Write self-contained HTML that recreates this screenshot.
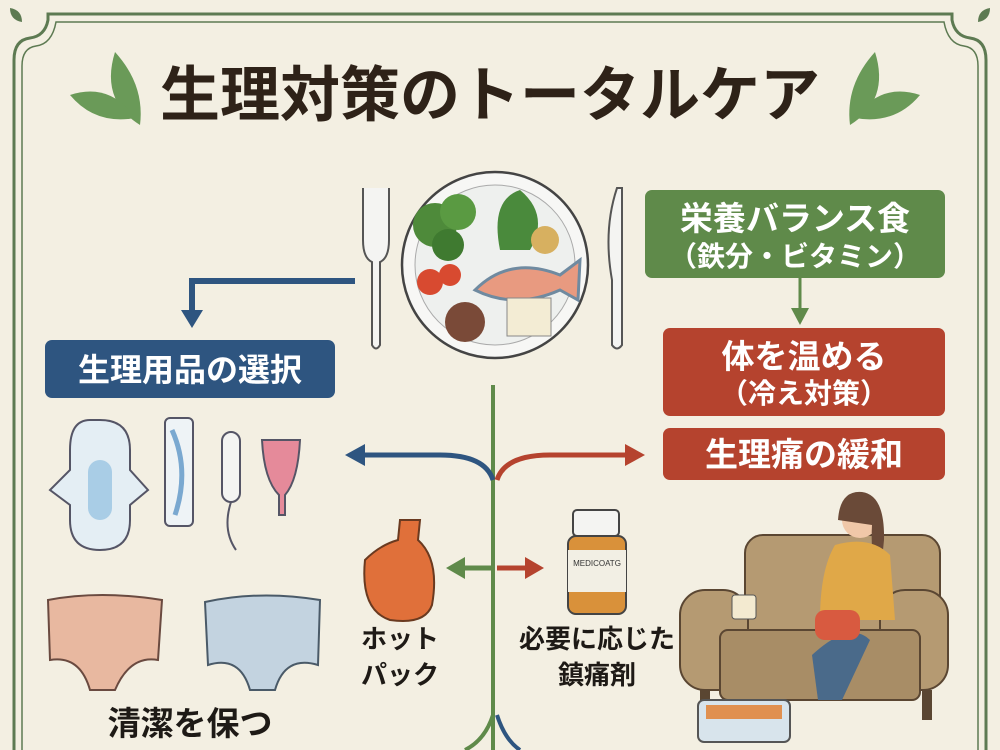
<!DOCTYPE html>
<html><head><meta charset="utf-8"><style>
html,body{margin:0;padding:0;background:#f3efe2;}
svg{display:block}
text{font-family:"Liberation Sans","Noto Sans CJK JP",sans-serif;}
</style></head><body>
<svg width="1000" height="750" viewBox="0 0 1000 750" xmlns="http://www.w3.org/2000/svg">
<rect width="1000" height="750" fill="#f3efe2"/>
<!-- frame -->
<g fill="none" stroke="#5d7a52" stroke-width="3">
<path d="M14 750 V60 Q14 40 30 38 Q45 36 48 20 V14 H952 V20 Q955 36 970 38 Q986 40 986 60 V750"/>
</g>
<g fill="none" stroke="#5d7a52" stroke-width="1.5">
<path d="M22 750 V66 Q22 48 36 46 Q52 44 56 22 H944 Q948 44 964 46 Q978 48 978 66 V750"/>
</g>
<path d="M10 8 q12 2 12 14 q-12 -2 -12 -14z" fill="#5d7a52"/>
<path d="M990 8 q-12 2 -12 14 q12 -2 12 -14z" fill="#5d7a52"/>
<!-- leaves -->
<g fill="#6a9a58">
<path d="M140 125 Q100 100 115 52 Q145 85 140 125z"/>
<path d="M135 118 Q95 125 70 95 Q110 82 135 118z"/>
<path d="M850 125 Q890 100 875 52 Q845 85 850 125z"/>
<path d="M855 118 Q895 125 920 95 Q880 82 855 118z"/>
</g>
<text x="490" y="116" text-anchor="middle" font-size="60" font-weight="bold" fill="#2e2218" font-family="'Liberation Serif','Noto Serif CJK SC',serif">生理対策のトータルケア</text>
<!-- fork & knife -->
<g fill="#f4f4f2" stroke="#555" stroke-width="2">
<path d="M363 188 V240 Q363 258 372 262 V345 Q376 352 380 345 V262 Q389 258 389 240 V188"/>
<path d="M617 188 Q603 230 612 280 V345 Q617 352 622 345 V188z"/>
</g>
<!-- plate -->
<circle cx="495" cy="265" r="93" fill="#f7f7f5" stroke="#444" stroke-width="2.5"/>
<circle cx="495" cy="265" r="80" fill="#eef0ee" stroke="#aaa" stroke-width="1"/>
<g>
<circle cx="435" cy="225" r="22" fill="#4e8a3a"/><circle cx="458" cy="212" r="18" fill="#5a9a42"/><circle cx="448" cy="245" r="16" fill="#3f7a30"/>
<path d="M500 250 Q490 200 520 190 Q550 215 530 250z" fill="#4a8a3c"/>
<circle cx="545" cy="240" r="14" fill="#d7b060"/>
<path d="M475 290 Q510 255 560 275 L580 260 L578 300 L560 290 Q515 310 475 290z" fill="#e89a80" stroke="#6f8aa0" stroke-width="3"/>
<circle cx="430" cy="282" r="13" fill="#d84a30"/><circle cx="450" cy="275" r="11" fill="#d84a30"/>
<circle cx="465" cy="322" r="20" fill="#7a4a38"/>
<rect x="507" y="298" width="44" height="38" fill="#f3ecd4" stroke="#888"/>
</g>
<!-- boxes -->
<rect x="645" y="190" width="300" height="88" rx="7" fill="#5f8a4a"/>
<text x="795" y="230" text-anchor="middle" font-size="33" font-weight="bold" fill="#fff">栄養バランス食</text>
<text x="795" y="266" text-anchor="middle" font-size="28" font-weight="bold" fill="#fff">（鉄分・ビタミン）</text>
<path d="M800 278 V315" stroke="#5f8a4a" stroke-width="3"/><path d="M791 308 L800 325 L809 308z" fill="#5f8a4a"/>
<rect x="663" y="328" width="282" height="88" rx="7" fill="#b5432e"/>
<text x="804" y="368" text-anchor="middle" font-size="33" font-weight="bold" fill="#fff">体を温める</text>
<text x="804" y="403" text-anchor="middle" font-size="28" font-weight="bold" fill="#fff">（冷え対策）</text>
<rect x="663" y="428" width="282" height="52" rx="7" fill="#b5432e"/>
<text x="804" y="466" text-anchor="middle" font-size="33" font-weight="bold" fill="#fff">生理痛の緩和</text>
<rect x="45" y="340" width="290" height="58" rx="7" fill="#2e5580"/>
<text x="190" y="381" text-anchor="middle" font-size="32" font-weight="bold" fill="#fff">生理用品の選択</text>
<!-- connectors -->
<path d="M355 281 H192 V315" fill="none" stroke="#2e5580" stroke-width="6"/>
<path d="M181 310 L192 328 L203 310z" fill="#2e5580"/>
<path d="M493 385 V750" stroke="#5f8a4a" stroke-width="4"/>
<path d="M493 480 Q485 455 440 455 H360" fill="none" stroke="#2e5580" stroke-width="5"/>
<path d="M365 444 L345 455 L365 466z" fill="#2e5580"/>
<path d="M497 480 Q505 455 550 455 H630" fill="none" stroke="#b5432e" stroke-width="5"/>
<path d="M625 444 L645 455 L625 466z" fill="#b5432e"/>
<path d="M493 568 H460" stroke="#5f8a4a" stroke-width="5"/><path d="M465 557 L446 568 L465 579z" fill="#5f8a4a"/>
<path d="M497 568 H530" stroke="#b5432e" stroke-width="5"/><path d="M525 557 L544 568 L525 579z" fill="#b5432e"/>
<path d="M493 715 Q485 740 465 750" fill="none" stroke="#5f8a4a" stroke-width="4"/>
<path d="M497 715 Q505 740 520 750" fill="none" stroke="#2e5580" stroke-width="4"/>
<!-- hygiene items -->
<path d="M90 420 Q70 420 70 450 V470 L50 490 L70 505 V520 Q70 550 100 550 Q130 550 130 520 V505 L148 490 L130 470 V450 Q130 420 100 420z" fill="#e4eef4" stroke="#556" stroke-width="2"/>
<rect x="88" y="460" width="24" height="60" rx="12" fill="#a9cde6"/>
<rect x="165" y="418" width="28" height="108" rx="5" fill="#eef3f6" stroke="#556" stroke-width="2"/>
<path d="M172 430 Q190 470 175 515" stroke="#7aa8d0" stroke-width="5" fill="none"/>
<rect x="222" y="432" width="18" height="70" rx="9" fill="#f4f4f2" stroke="#556" stroke-width="2"/>
<path d="M231 502 Q222 530 236 550" stroke="#556" stroke-width="2" fill="none"/>
<path d="M262 440 H300 Q298 480 285 495 V515 H279 V495 Q264 480 262 440z" fill="#e58a9a" stroke="#556" stroke-width="2"/>
<path d="M48 600 Q100 590 162 600 L158 660 Q130 655 115 690 H90 Q80 655 50 660z" fill="#e8b8a0" stroke="#6a4a40" stroke-width="2"/>
<path d="M205 602 Q260 590 320 600 L318 665 Q285 655 275 690 H250 Q240 655 208 665z" fill="#c3d3e0" stroke="#4a5a68" stroke-width="2"/>
<text x="190" y="735" text-anchor="middle" font-size="33" font-weight="bold" fill="#1e1a16">清潔を保つ</text>
<!-- hot pack -->
<path d="M400 520 L420 520 L418 540 Q440 560 432 605 Q425 625 390 620 Q360 610 365 560 Q380 545 398 540z" fill="#e0703a" stroke="#6a3a20" stroke-width="2"/>
<text x="400" y="648" text-anchor="middle" font-size="26" font-weight="bold" fill="#1e1a16">ホット</text>
<text x="400" y="684" text-anchor="middle" font-size="26" font-weight="bold" fill="#1e1a16">パック</text>
<!-- medicine -->
<rect x="573" y="510" width="46" height="26" rx="4" fill="#f4f4f2" stroke="#444" stroke-width="2"/>
<rect x="568" y="536" width="58" height="78" rx="8" fill="#d9913a" stroke="#444" stroke-width="2"/>
<rect x="568" y="550" width="58" height="42" fill="#f2efe4"/>
<text x="597" y="566" text-anchor="middle" font-size="8" fill="#333">MEDICOATG</text>
<text x="597" y="648" text-anchor="middle" font-size="26" font-weight="bold" fill="#1e1a16">必要に応じた</text>
<text x="597" y="684" text-anchor="middle" font-size="26" font-weight="bold" fill="#1e1a16">鎮痛剤</text>
<!-- sofa scene -->
<rect x="745" y="535" width="195" height="110" rx="18" fill="#b59a72" stroke="#5a4632" stroke-width="2"/>
<rect x="680" y="590" width="68" height="100" rx="25" fill="#b59a72" stroke="#5a4632" stroke-width="2"/>
<rect x="880" y="590" width="68" height="100" rx="25" fill="#b59a72" stroke="#5a4632" stroke-width="2"/>
<rect x="720" y="630" width="200" height="70" rx="8" fill="#a88d66" stroke="#5a4632" stroke-width="2"/>
<rect x="700" y="690" width="10" height="30" fill="#5a4632"/><rect x="922" y="690" width="10" height="30" fill="#5a4632"/>
<circle cx="860" cy="520" r="18" fill="#f0c8a8"/>
<path d="M838 520 Q840 490 862 492 Q885 495 884 540 L880 580 Q870 560 872 525z" fill="#6a4a38"/>
<path d="M835 545 Q870 535 890 555 L895 620 H820 Q820 570 835 545z" fill="#e0a848"/>
<path d="M812 655 Q850 620 870 640 L842 700 L818 700z" fill="#4a6a8a"/>
<rect x="815" y="610" width="45" height="30" rx="10" fill="#d85a40"/>
<rect x="732" y="595" width="24" height="24" rx="3" fill="#f3ead0" stroke="#555"/>
<rect x="698" y="700" width="92" height="42" rx="6" fill="#d8e4ec" stroke="#555" stroke-width="2"/>
<rect x="706" y="705" width="76" height="14" fill="#e09050"/>
</svg>
</body></html>
